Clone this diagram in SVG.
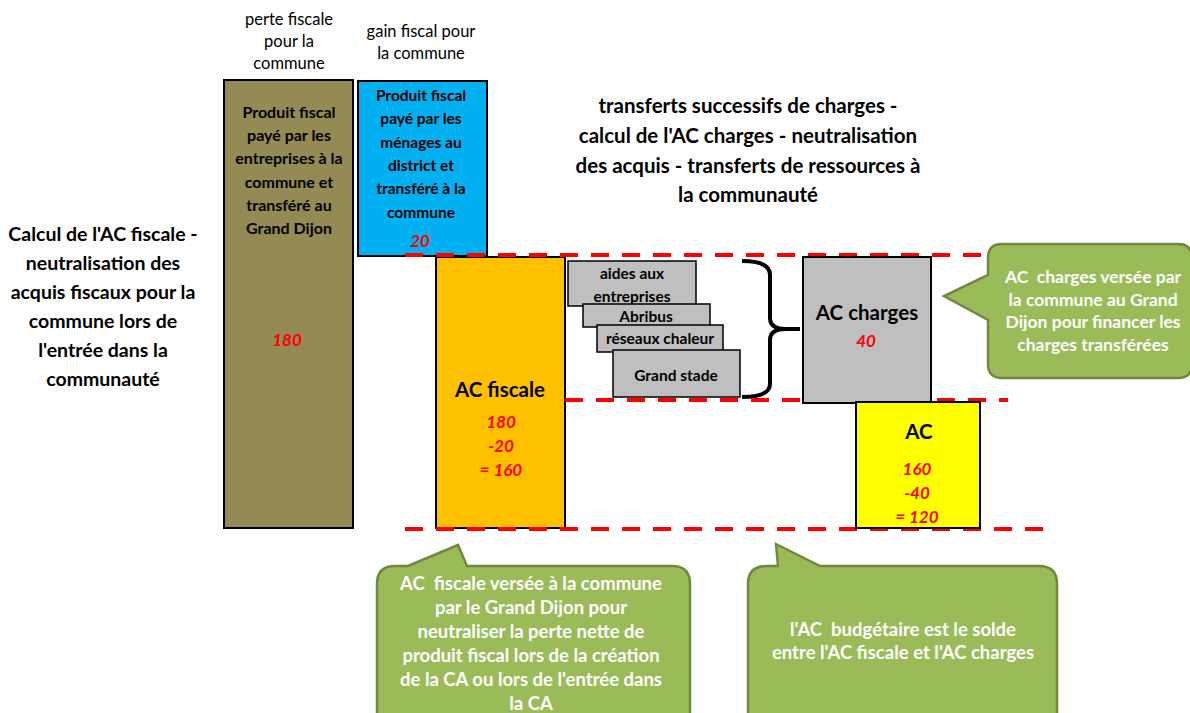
<svg xmlns="http://www.w3.org/2000/svg" width="1190" height="713" viewBox="0 0 1190 713">
<style>
text{font-family:Lato,"Liberation Sans",sans-serif;text-anchor:middle;fill:#000}
.b{font-weight:bold}
.box{stroke:#000;stroke-width:2}
.num{fill:#FF0000;font-weight:bold;font-style:italic;font-size:17px}
.dash{stroke:#FF0000;stroke-width:4;stroke-dasharray:18,13;fill:none}
.call{fill:#9BBB59;stroke:#71893F;stroke-width:2.5}
.ct{fill:#fff;font-weight:bold}
.gray{fill:#BFBFBF;stroke:#000;stroke-width:1.5}
</style>
<rect width="1190" height="713" fill="#fff"/>
<g id="header-perte" font-size="16.5">
<text x="289" y="25">perte fiscale</text>
<text x="289" y="47">pour la</text>
<text x="289" y="69">commune</text>
</g>
<g id="header-gain" font-size="16.5">
<text x="421" y="37">gain fiscal pour</text>
<text x="421" y="59">la commune</text>
</g>
<g id="left-title" font-size="19.5">
<text x="103" y="241" class="b">Calcul de l'AC fiscale -</text>
<text x="103" y="270" class="b">neutralisation des</text>
<text x="103" y="299" class="b">acquis fiscaux pour la</text>
<text x="103" y="328" class="b">commune lors de</text>
<text x="103" y="357" class="b">l'entrée dans la</text>
<text x="103" y="386" class="b">communauté</text>
</g>
<g id="top-title" font-size="20.5">
<text x="748" y="113" class="b">transferts successifs de charges -</text>
<text x="748" y="143" class="b">calcul de l'AC charges - neutralisation</text>
<text x="748" y="173" class="b">des acquis - transferts de ressources à</text>
<text x="748" y="202" class="b">la communauté</text>
</g>
<g id="olive">
<rect x="224" y="80" width="129" height="448" fill="#948A54" class="box"/>
<g font-size="16">
<text x="289" y="118" class="b">Produit fiscal</text>
<text x="289" y="141" class="b">payé par les</text>
<text x="289" y="164" class="b">entreprises à la</text>
<text x="289" y="188" class="b">commune et</text>
<text x="289" y="211" class="b">transféré au</text>
<text x="289" y="234" class="b">Grand Dijon</text>
</g>
<text x="287" y="346" class="num">180</text>
</g>
<g id="blue">
<rect x="358" y="81" width="129" height="175" fill="#00B0F0" class="box"/>
<g font-size="15.5">
<text x="421" y="101" class="b">Produit fiscal</text>
<text x="421" y="124" class="b">payé par les</text>
<text x="421" y="148" class="b">ménages au</text>
<text x="421" y="171" class="b">district et</text>
<text x="421" y="194" class="b">transféré à la</text>
<text x="421" y="218" class="b">commune</text>
</g>
<text x="420" y="247" class="num">20</text>
</g>
<g id="ac-fiscale">
<rect x="436" y="257" width="129" height="271" fill="#FFC000" class="box"/>
<text x="500" y="397" font-size="20.5" class="b">AC fiscale</text>
<text x="501" y="428" class="num">180</text>
<text x="501" y="452" class="num">-20</text>
<text x="501" y="476" class="num">= 160</text>
</g>
<g id="charges-list" font-size="15.5">
<rect x="568" y="261" width="128" height="45" class="gray"/>
<text x="632" y="279" class="b">aides aux</text>
<text x="632" y="302" class="b">entreprises</text>
<rect x="583" y="304" width="127" height="23" class="gray"/>
<text x="646" y="322" class="b">Abribus</text>
<rect x="597" y="325" width="126" height="27" class="gray"/>
<text x="660" y="344" class="b">réseaux chaleur</text>
<rect x="613" y="350" width="127" height="47" class="gray"/>
<text x="676" y="381" class="b">Grand stade</text>
</g>
<g id="connectors">
<path d="M742,261 Q770,261 770,275 L770,318 Q770,329 786,329 L800,329 M786,329 Q770,329 770,340 L770,384 Q770,397 742,397" fill="none" stroke="#000" stroke-width="4"/>
<line x1="405" y1="255" x2="1045" y2="255" class="dash"/>
<line x1="565" y1="400" x2="1008" y2="400" class="dash"/>
<line x1="405" y1="529" x2="1045" y2="529" class="dash"/>
</g>
<g id="ac-charges">
<rect x="803" y="257" width="128" height="146" fill="#BFBFBF" class="box"/>
<text x="867" y="320" font-size="20.5" class="b">AC charges</text>
<text x="866" y="347" class="num">40</text>
</g>
<g id="ac">
<rect x="856" y="402" width="124" height="126" fill="#FFFF00" class="box"/>
<text x="919" y="439" font-size="20.5" class="b">AC</text>
<text x="917" y="475" class="num">160</text>
<text x="917" y="499" class="num">-40</text>
<text x="917" y="523" class="num">= 120</text>
</g>
<g id="callout-charges">
<path d="M1002,244 L1178,244 Q1192,244 1192,258 L1192,364 Q1192,378 1178,378 L1002,378 Q988,378 988,364 L988,320 L944,296 L988,275 L988,258 Q988,244 1002,244 Z" class="call"/>
<g font-size="17.5">
<text x="1093" y="283" class="ct" xml:space="preserve">AC  charges versée par</text>
<text x="1093" y="306" class="ct">la commune au Grand</text>
<text x="1093" y="328" class="ct">Dijon pour financer les</text>
<text x="1093" y="351" class="ct">charges transférées</text>
</g>
</g>
<g id="callout-fiscale">
<path d="M395,566 L408,566 L458,545 L467,566 L672,566 Q690,566 690,584 L690,716 L377,716 L377,584 Q377,566 395,566 Z" class="call"/>
<g font-size="18.5">
<text x="531" y="590" class="ct" xml:space="preserve">AC  fiscale versée à la commune</text>
<text x="531" y="614" class="ct">par le Grand Dijon pour</text>
<text x="531" y="638" class="ct">neutraliser la perte nette de</text>
<text x="531" y="662" class="ct">produit fiscal lors de la création</text>
<text x="531" y="686" class="ct">de la CA ou lors de l'entrée dans</text>
<text x="531" y="710" class="ct">la CA</text>
</g>
</g>
<g id="callout-ac">
<path d="M767,566 L778,566 L776,544 L820,566 L1039,566 Q1057,566 1057,584 L1057,716 L748,716 L748,584 Q748,566 767,566 Z" class="call"/>
<g font-size="18.5">
<text x="903" y="636" class="ct" xml:space="preserve">l'AC  budgétaire est le solde</text>
<text x="903" y="659" class="ct">entre l'AC fiscale et l'AC charges</text>
</g>
</g>
</svg>
